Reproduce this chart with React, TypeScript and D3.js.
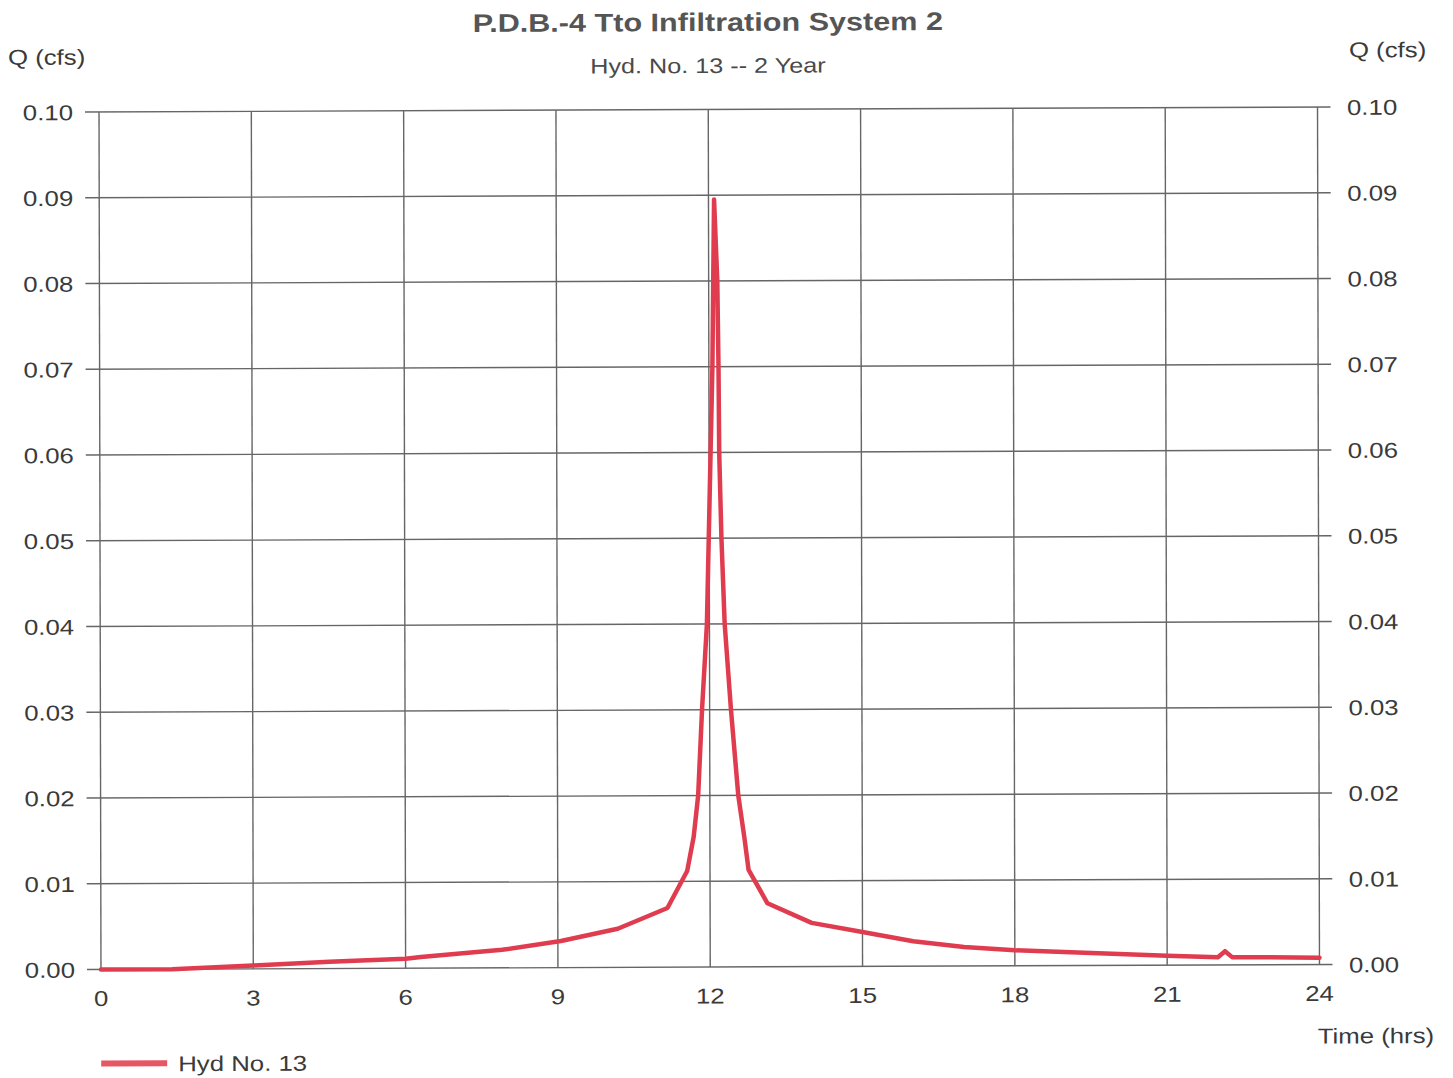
import React from "react";
import * as d3 from "d3";

// Hydrograph ordinates: time (hrs) and flow Q (cfs)
const timeHrs = [
  0, 1.4, 3, 4.5, 6, 6.3, 7.9, 9.06, 10.18, 11.16, 11.55, 11.68, 11.77, 11.85,
  11.95, 11.99, 12.03, 12.07, 12.09, 12.11, 12.17, 12.19, 12.2, 12.24, 12.3,
  12.42, 12.56, 12.68, 12.76, 13.13, 14.0, 15.0, 16.0, 17.0, 18.0, 21.0, 22.0,
  22.14, 22.28, 24.0,
];
const flowCfs = [
  0.0, 0.0, 0.0004, 0.0008, 0.0011, 0.0013, 0.0021, 0.0031, 0.0045, 0.0069,
  0.0112, 0.0152, 0.02, 0.03, 0.04, 0.05, 0.06, 0.07, 0.08, 0.0895, 0.08, 0.07,
  0.06, 0.05, 0.04, 0.03, 0.02, 0.015, 0.0113, 0.0074, 0.0051, 0.004, 0.0029,
  0.0022, 0.0018, 0.0011, 0.0009, 0.0016, 0.0009, 0.0008,
];

const xTickValues = [0, 3, 6, 9, 12, 15, 18, 21, 24];
const yTickValues = [0, 0.01, 0.02, 0.03, 0.04, 0.05, 0.06, 0.07, 0.08, 0.09, 0.1];

const titleText = "P.D.B.-4 Tto Infiltration System 2";
const subtitleText = "Hyd. No. 13 -- 2 Year";
const yAxisLabel = "Q (cfs)";
const xAxisLabel = "Time (hrs)";
const seriesName = "Hyd No. 13";

const W = 1453;
const H = 1078;
const plot = { left: 100, right: 1318.5, top: 109.5, bottom: 967 };
const FONT = "'Liberation Sans', Arial, Helvetica, sans-serif";
const STRETCH = 1.2;
const TEXT_COLOR = "#3a3a3a";
const GRID_COLOR = "#666";
const LINE_COLOR = "#e03c4f";

type TProps = {
  x: number;
  y: number;
  size: number;
  anchor?: "start" | "middle" | "end";
  weight?: string | number;
  fill?: string;
  children: React.ReactNode;
};

function Label({ x, y, size, anchor = "start", weight = "normal", fill = TEXT_COLOR, children }: TProps) {
  return (
    <text
      transform={`translate(${x},${y}) scale(${STRETCH},1)`}
      fontSize={size}
      fontFamily={FONT}
      fontWeight={weight}
      textAnchor={anchor}
      fill={fill}
    >
      {children}
    </text>
  );
}

export default function App() {
  const x = d3.scaleLinear().domain([0, 24]).range([plot.left, plot.right]);
  const y = d3.scaleLinear().domain([0, 0.1]).range([plot.bottom, plot.top]);
  const fmt = d3.format(".2f");

  const pts: [number, number][] = timeHrs.map((t, i) => [t, flowCfs[i]]);
  const line = d3
    .line<[number, number]>()
    .x((d) => x(d[0]))
    .y((d) => y(d[1]))
    .curve(d3.curveLinear);

  // slight page skew of the sheet
  const cx = 709;
  const cy = 538;
  const b = -0.0041;
  const c = 0.0023;
  const skew = `matrix(1,${b},${c},1,${-c * cy},${-b * cx})`;

  return (
    <svg
      width={W}
      height={H}
      style={{ position: "absolute", left: 0, top: 0, background: "#fff" }}
    >
      <rect x={0} y={0} width={W} height={H} fill="#fff" />
      <g transform={skew}>
        {/* horizontal grid with outer ticks on both sides */}
        {yTickValues.map((v) => (
          <line
            key={`h${v}`}
            x1={plot.left - 14}
            x2={plot.right + 13}
            y1={y(v)}
            y2={y(v)}
            stroke={GRID_COLOR}
            strokeWidth={1.4}
          />
        ))}
        {/* vertical grid */}
        {xTickValues.map((v) => (
          <line
            key={`v${v}`}
            x1={x(v)}
            x2={x(v)}
            y1={plot.top}
            y2={plot.bottom}
            stroke={GRID_COLOR}
            strokeWidth={1.4}
          />
        ))}

        {/* left y-axis labels */}
        {yTickValues.map((v) => (
          <Label key={`ly${v}`} x={74} y={y(v) + 8} size={21.5} anchor="end">
            {fmt(v)}
          </Label>
        ))}
        {/* right y-axis labels */}
        {yTickValues.map((v) => (
          <Label key={`ry${v}`} x={1348} y={y(v) + 8} size={21.5}>
            {fmt(v)}
          </Label>
        ))}
        {/* x-axis labels */}
        {xTickValues.map((v) => (
          <Label key={`x${v}`} x={x(v)} y={plot.bottom + 36.5} size={21.5} anchor="middle">
            {v}
          </Label>
        ))}

        {/* hydrograph */}
        <path
          d={line(pts) ?? ""}
          fill="none"
          stroke={LINE_COLOR}
          strokeWidth={4.5}
          strokeLinejoin="round"
          strokeLinecap="round"
        />

        {/* titles */}
        <Label x={709} y={31} size={25.5} anchor="middle" weight="bold" fill="#555">
          {titleText}
        </Label>
        <Label x={709} y={73} size={21} anchor="middle" fill="#4a4a4a">
          {subtitleText}
        </Label>
        <Label x={9} y={62} size={21.5}>
          {yAxisLabel}
        </Label>
        <Label x={1350} y={60} size={21.5}>
          {yAxisLabel}
        </Label>
        <Label x={1433} y={1046} size={21.5} anchor="end">
          {xAxisLabel}
        </Label>

        {/* legend */}
        <line x1={100} x2={166} y1={1061} y2={1061} stroke="#e65663" strokeWidth={6} />
        <Label x={177} y={1069} size={21.5}>
          {seriesName}
        </Label>
      </g>
    </svg>
  );
}
